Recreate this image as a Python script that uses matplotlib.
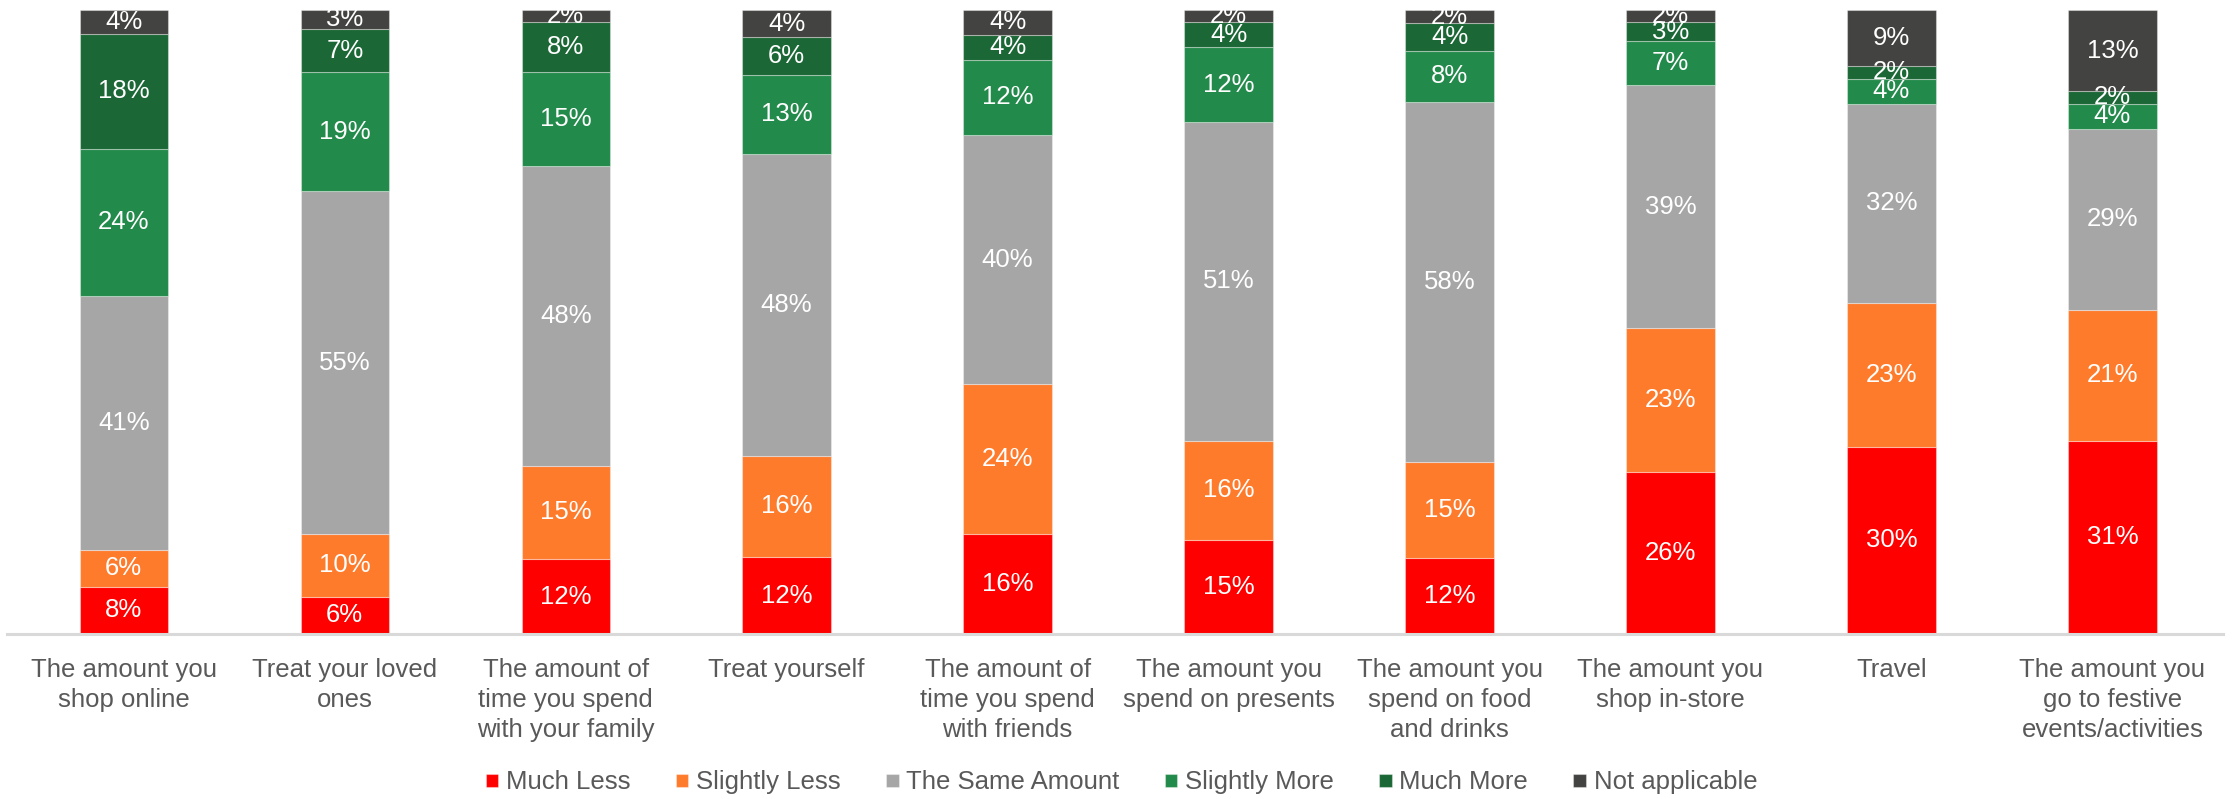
import matplotlib
matplotlib.use("Agg")
import matplotlib.pyplot as plt
import numpy as np

plt.rcParams["font.family"] = ["Liberation Sans", "DejaVu Sans"]

CATEGORIES = [
    "The amount you\nshop online",
    "Treat your loved\nones",
    "The amount of\ntime you spend\nwith your family",
    "Treat yourself",
    "The amount of\ntime you spend\nwith friends",
    "The amount you\nspend on presents",
    "The amount you\nspend on food\nand drinks",
    "The amount you\nshop in-store",
    "Travel",
    "The amount you\ngo to festive\nevents/activities",
]

# shares in % (labels show them rounded)
much_less = [7.6, 6, 12, 12.3, 16, 15, 12.2, 26, 30, 31]
slightly_less = [5.8, 10, 15, 16.3, 24, 16, 15.3, 23, 23, 21]
same_amount = [40.7, 55, 48, 48.4, 40, 51, 57.8, 39, 32, 29]
slightly_more = [23.7, 19, 15, 12.6, 12, 12, 8.2, 7, 4, 4]
much_more = [18.3, 7, 8, 6.0, 4, 4, 4.4, 3, 2, 2]
not_applicable = [3.9, 3, 2, 4.4, 4, 2, 2.1, 2, 9, 13]

SERIES = [
    ("Much Less", much_less, "#FF0000"),
    ("Slightly Less", slightly_less, "#FF7B2C"),
    ("The Same Amount", same_amount, "#A6A6A6"),
    ("Slightly More", slightly_more, "#228A4A"),
    ("Much More", much_more, "#1B6836"),
    ("Not applicable", not_applicable, "#434341"),
]

TEXT_GREY = "#595959"
FS = 18.5


def chart():
    fig = plt.figure(figsize=(22.34, 7.99), dpi=100)
    ax = fig.add_axes([0.003, 0.2065, 0.992, 0.781])

    x = np.arange(len(CATEGORIES))
    bottom = np.zeros(len(CATEGORIES))
    handles = []
    for name, vals, color in SERIES:
        vals = np.array(vals, dtype=float)
        bars = ax.bar(x, vals, 0.4, bottom=bottom, color=color,
                      edgecolor=(1, 1, 1, 0.35), linewidth=0.8, label=name)
        ax.bar_label(bars, labels=[f"{v:.0f}%" for v in vals],
                     label_type="center", color="white", fontsize=FS)
        handles.append(bars)
        bottom += vals

    ax.set_xlim(-0.53, len(CATEGORIES) - 0.5)
    ax.set_ylim(0, 100)
    ax.set_yticks([])
    ax.set_xticks(x)
    ax.set_xticklabels(CATEGORIES, fontsize=FS, color=TEXT_GREY)
    for lbl in ax.get_xticklabels():
        lbl.set_linespacing(1.32)
    ax.tick_params(axis="x", length=0, pad=17)
    for side in ["top", "left", "right"]:
        ax.spines[side].set_visible(False)
    ax.spines["bottom"].set_color("#D9D9D9")
    ax.spines["bottom"].set_linewidth(2.2)

    leg = fig.legend(handles=handles, loc="center", bbox_to_anchor=(0.502, 0.021),
                     ncol=6, frameon=False, fontsize=FS, handlelength=0.5,
                     handleheight=0.4, handletextpad=0.3, columnspacing=1.75)
    for t in leg.get_texts():
        t.set_color(TEXT_GREY)

    fig.savefig("out.png", dpi=100)


def main():
    chart()


if __name__ == "__main__":
    main()
